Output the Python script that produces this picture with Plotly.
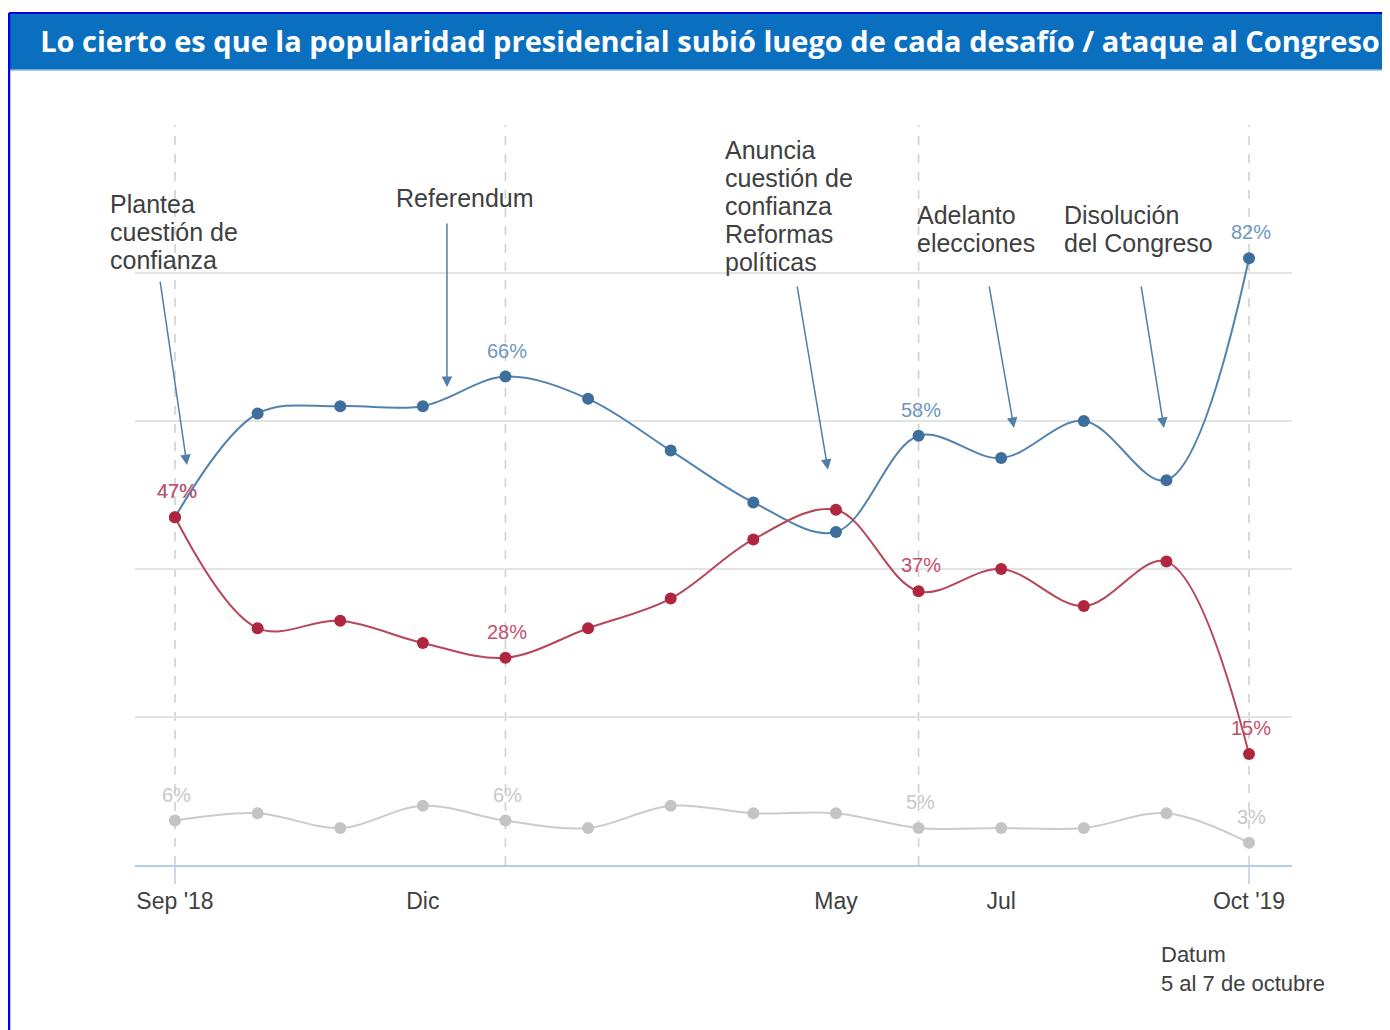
import plotly.graph_objects as go

months = ["Sep '18", "Oct", "Nov", "Dic", "Ene", "Feb", "Mar", "Abr", "May",
          "Jun", "Jul", "Ago", "Sep", "Oct '19"]
aprueba = [47, 61, 62, 62, 66, 63, 56, 49, 45, 58, 55, 60, 52, 82]
desaprueba = [47, 32, 33, 30, 28, 32, 36, 44, 48, 37, 40, 35, 41, 15]
nsnp = [6, 7, 5, 8, 6, 5, 8, 7, 7, 5, 5, 5, 7, 3]
labeled_idx = [0, 4, 9, 13]          # points with value labels / dashed guides
tick_months = ["Sep '18", "Dic", "May", "Jul", "Oct '19"]
title_text = "Lo cierto es que la popularidad presidencial subió luego de cada desafío / ataque al Congreso"

BLUE_L, BLUE_M, BLUE_T = "#5283AE", "#3E6F9C", "#6E97C0"
RED_L, RED_M, RED_T = "#B8465A", "#B0263E", "#C4506A"
GRAY_L, GRAY_M, GRAY_T = "#CBCBCB", "#C4C4C4", "#C8C8C8"
TXT = "#404040"
FONT = "Liberation Sans, Arial, sans-serif"

# plot area geometry (figure pixels; page body offsets the figure by 8px)
PL, PT, PW, PH = 127, 117, 1157, 740
W, H = 1382, 1022


def px(x):   # window x pixel -> paper
    return (x - 8 - PL) / PW


def py(y):   # window y pixel -> paper
    return (PT + PH - (y - 8)) / PH


fig = go.Figure()
for vals, lc, mc, name in [(nsnp, GRAY_L, GRAY_M, "NS/NP"),
                           (aprueba, BLUE_L, BLUE_M, "Aprueba"),
                           (desaprueba, RED_L, RED_M, "Desaprueba")]:
    fig.add_trace(go.Scatter(
        x=months, y=vals, mode="lines+markers", name=name,
        line=dict(color=lc, width=2, shape="spline", smoothing=1.0),
        marker=dict(color=mc, size=12), showlegend=False))

annotations = []
# value labels
for vals, col in [(aprueba, BLUE_T), (desaprueba, RED_T), (nsnp, GRAY_T)]:
    for i in labeled_idx:
        annotations.append(dict(
            x=months[i], y=vals[i], xref="x", yref="y", text=f"{vals[i]}%",
            showarrow=False, yshift=26, xshift=2, yanchor="middle",
            font=dict(family=FONT, size=20, color=col)))

# event labels (one annotation per line for tight leading)
events = [
    (108, ["Plantea", "cuestión de", "confianza"], 204, "left"),
    (465, ["Referendum"], 198, "center"),
    (723, ["Anuncia", "cuestión de", "confianza", "Reformas", "políticas"], 150, "left"),
    (915, ["Adelanto", "elecciones"], 215, "left"),
    (1062, ["Disolución", "del Congreso"], 215, "left"),
]
for x, lines, ytop, anchor in events:
    for k, ln in enumerate(lines):
        annotations.append(dict(
            x=px(x), y=py(ytop + k * 28), xref="paper", yref="paper", text=ln,
            showarrow=False, xanchor=anchor, yanchor="middle",
            font=dict(family=FONT, size=25, color=TXT)))

arrows = [((-0.182, 79.05), (0.145, 54.05)),
          ((3.292, 86.9), (3.292, 64.6)),
          ((7.528, 78.4), (7.903, 53.4)),
          ((9.852, 78.4), (10.155, 59.05)),
          ((11.692, 78.4), (11.97, 59.05))]
for (tx, ty), (hx, hy) in arrows:
    annotations.append(dict(
        x=hx, y=hy, ax=tx, ay=ty, xref="x", yref="y", axref="x", ayref="y",
        text="", showarrow=True, arrowhead=2, arrowsize=1.4, arrowwidth=1.5,
        arrowcolor="#4F7FAA"))

annotations.append(dict(
    x=px(1159), y=py(969), xref="paper", yref="paper", text="Datum<br>5 al 7 de octubre",
    showarrow=False, xanchor="left", yanchor="middle", align="left",
    font=dict(family=FONT, size=22, color=TXT)))

shapes = []
# dashed guides
for i in labeled_idx:
    shapes.append(dict(type="line", xref="x", yref="y", x0=months[i], x1=months[i],
                       y0=0, y1=100, layer="below",
                       line=dict(color="#D0D0D0", width=1.6, dash="dash")))
# end ticks
for i in [0, len(months) - 1]:
    shapes.append(dict(type="line", xref="x", yref="paper", x0=months[i], x1=months[i],
                       y0=0, y1=-19 / PH, line=dict(color="#B4CCE4", width=1.5)))
# title bar and frame
shapes += [
    dict(type="rect", xref="paper", yref="paper", x0=px(9), x1=px(1400), y0=py(70), y1=py(13),
         fillcolor="#0B6FC0", line=dict(width=0), layer="below"),
    dict(type="line", xref="paper", yref="paper", x0=px(9), x1=px(1400), y0=py(70), y1=py(70),
         line=dict(color="#8DBBE6", width=1.5)),
    dict(type="line", xref="paper", yref="paper", x0=px(9), x1=px(1400), y0=py(13), y1=py(13),
         line=dict(color="#0000E6", width=2)),
    dict(type="line", xref="paper", yref="paper", x0=px(9), x1=px(9), y0=py(1040), y1=py(13),
         line=dict(color="#0000E6", width=2.5)),
]

fig.update_layout(
    width=W, height=H,
    margin=dict(l=PL, r=W - PL - PW, t=PT, b=H - PT - PH),
    paper_bgcolor="white", plot_bgcolor="white",
    title=dict(text=title_text, x=(710 - 8) / W, xanchor="center", y=1 - (42 - 8) / H,
               yanchor="middle", font=dict(family="Open Sans, Lato, sans-serif",
                                            size=29, color="white", weight="bold")),
    xaxis=dict(range=[-0.484, 13.52], tickmode="array", tickvals=tick_months,
               ticktext=tick_months, showgrid=False, showline=True,
               linecolor="#B4CCE4", linewidth=2, ticks="", ticklabelstandoff=14,
               tickfont=dict(family=FONT, size=23, color=TXT), zeroline=False),
    yaxis=dict(range=[0, 100], tickvals=[0, 20, 40, 60, 80, 100], showticklabels=False,
               showgrid=True, gridcolor="#E3E3E3", gridwidth=2, zeroline=False,
               showline=False),
    annotations=annotations, shapes=shapes,
)

fig.write_html("out.html")
